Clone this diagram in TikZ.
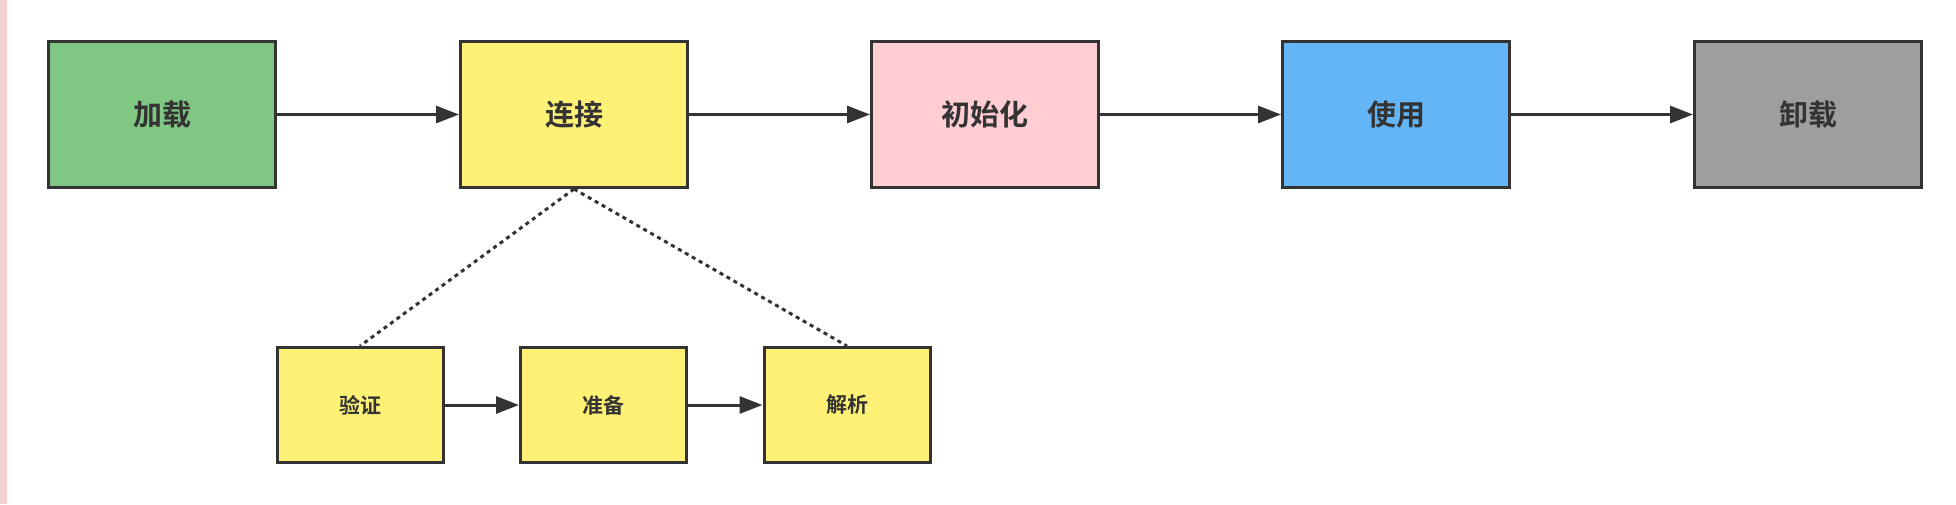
\documentclass[tikz,border=0pt]{standalone}
\usepackage{fontspec}
\newfontfamily\cjk{Noto Sans CJK SC}[BoldFont={Noto Sans CJK SC Bold}]
\usetikzlibrary{arrows.meta}
\definecolor{strokec}{HTML}{333333}
\definecolor{cgreen}{HTML}{81C784}
\definecolor{cyellow}{HTML}{FFF176}
\definecolor{cpink}{HTML}{FFCDD2}
\definecolor{cblue}{HTML}{64B5F6}
\definecolor{cgray}{HTML}{9E9E9E}
\definecolor{cstrip}{HTML}{F4D3D3}
\tikzset{
  stage/.style={draw=strokec, line width=1.5pt, minimum width=113.5pt, minimum height=73pt, inner sep=0pt, text=strokec, font=\cjk\bfseries\fontsize{14.5pt}{16pt}\selectfont},
  substage/.style={draw=strokec, line width=1.5pt, fill=cyellow, minimum width=83pt, minimum height=57.5pt, inner sep=0pt, text=strokec, font=\cjk\bfseries\fontsize{10.5pt}{12pt}\selectfont},
  flow/.style={draw=strokec, line width=1.5pt, -{Triangle[length=11.5pt,width=8.5pt]}},
  dotline/.style={draw=strokec, line width=1.5pt, dash pattern=on 2pt off 2pt}
}
\begin{document}
\begin{tikzpicture}[x=0.5pt,y=-0.5pt]
\useasboundingbox (0,0) rectangle (1956,504);
\fill[white] (0,0) rectangle (1956,504);
\fill[cstrip] (0,0) rectangle (5,504);
\draw[cstrip!80!red!60, line width=0.6pt] (6,0) -- (6,504);
\node[stage, fill=cgreen]  (load)  at (162,114.5) {加载};
\node[stage, fill=cyellow] (link)  at (574,114.5) {连接};
\node[stage, fill=cpink]   (init)  at (985,114.5) {初始化};
\node[stage, fill=cblue]   (use)   at (1396,114.5) {使用};
\node[stage, fill=cgray]   (unload) at (1808,114.5) {卸载};
\node[substage] (verify)  at (360,405) {验证};
\node[substage] (prepare) at (603.5,405) {准备};
\node[substage] (resolve) at (847,405) {解析};
\draw[flow] (load) -- (link);
\draw[flow] (link) -- (init);
\draw[flow] (init) -- (use);
\draw[flow] (use) -- (unload);
\draw[flow] (verify) -- (prepare);
\draw[flow] (prepare) -- (resolve);
\draw[dotline] (link.south) -- (verify.north);
\draw[dotline] (link.south) -- (resolve.north);
\end{tikzpicture}
\end{document}
